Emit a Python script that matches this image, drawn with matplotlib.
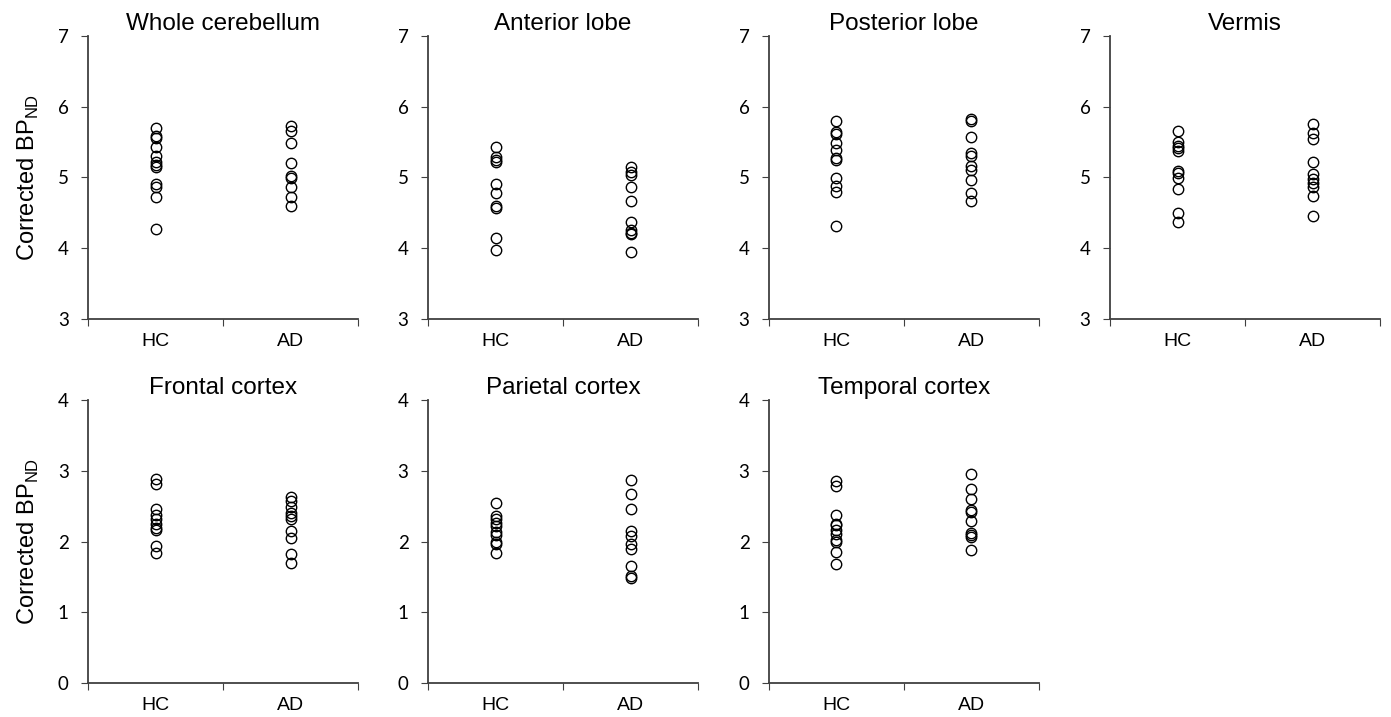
import matplotlib

matplotlib.use("Agg")
import matplotlib.pyplot as plt

groups = ["HC", "AD"]
regions = ["Whole cerebellum", "Anterior lobe", "Posterior lobe", "Vermis",
           "Frontal cortex", "Parietal cortex", "Temporal cortex"]

whole_hc = [5.69, 5.59, 5.56, 5.43, 5.30, 5.22, 5.18, 5.15, 4.91, 4.86, 4.72, 4.27]
whole_ad = [5.72, 5.65, 5.49, 5.20, 5.02, 4.99, 4.86, 4.72, 4.59]
anterior_hc = [5.43, 5.29, 5.24, 5.21, 4.91, 4.78, 4.60, 4.57, 4.14, 3.98]
anterior_ad = [5.14, 5.08, 5.03, 4.87, 4.66, 4.37, 4.26, 4.22, 4.20, 3.94]
posterior_hc = [5.79, 5.64, 5.61, 5.49, 5.38, 5.28, 5.24, 4.99, 4.88, 4.80, 4.32]
posterior_ad = [5.83, 5.79, 5.57, 5.34, 5.30, 5.16, 5.10, 4.96, 4.78, 4.66]
vermis_hc = [5.65, 5.50, 5.44, 5.41, 5.37, 5.09, 5.06, 4.99, 4.84, 4.50, 4.37]
vermis_ad = [5.75, 5.63, 5.54, 5.21, 5.05, 4.97, 4.92, 4.87, 4.73, 4.45]
frontal_hc = [2.88, 2.81, 2.46, 2.37, 2.32, 2.25, 2.19, 2.16, 1.94, 1.84]
frontal_ad = [2.63, 2.58, 2.49, 2.40, 2.36, 2.32, 2.15, 2.05, 1.82, 1.70]
parietal_hc = [2.55, 2.36, 2.32, 2.27, 2.22, 2.13, 2.10, 1.99, 1.97, 1.84]
parietal_ad = [2.87, 2.67, 2.46, 2.15, 2.08, 1.96, 1.90, 1.66, 1.52, 1.49]
temporal_hc = [2.85, 2.78, 2.37, 2.25, 2.23, 2.16, 2.11, 2.03, 1.99, 1.86, 1.69]
temporal_ad = [2.96, 2.75, 2.60, 2.45, 2.42, 2.29, 2.12, 2.10, 2.07, 1.88]

hc_values = [whole_hc, anterior_hc, posterior_hc, vermis_hc, frontal_hc, parietal_hc, temporal_hc]
ad_values = [whole_ad, anterior_ad, posterior_ad, vermis_ad, frontal_ad, parietal_ad, temporal_ad]
top_ticks = [3, 4, 5, 6, 7]
bottom_ticks = [0, 1, 2, 3, 4]

plt.rcParams["font.family"] = ["Liberation Sans", "DejaVu Sans"]
plt.rcParams["mathtext.fontset"] = "custom"
plt.rcParams["mathtext.rm"] = "Liberation Sans"

fig = plt.figure(figsize=(13.91, 7.17), dpi=100)
lefts = [0.0633, 0.3077, 0.5528, 0.7980]
width = 0.1941
row_bottoms = [0.5551, 0.0470]
height = 0.3951
axis_color = "#404040"

for i, name in enumerate(regions):
    row, col = divmod(i, 4)
    ax = fig.add_axes([lefts[col], row_bottoms[row], width, height])
    ticks = top_ticks if row == 0 else bottom_ticks
    for pos, vals in zip([1, 2], [hc_values[i], ad_values[i]]):
        ax.plot([pos] * len(vals), vals, "o", ms=7.5, mfc="none", mec="black", mew=1.0)
    ax.set_xlim(0.5, 2.5)
    ax.set_ylim(ticks[0], ticks[-1])
    ax.set_yticks(ticks)
    ax.set_yticklabels([str(t) for t in ticks], family="Lato", fontsize=13.5)
    ax.set_xticks([0.5, 1.5, 2.5])
    ax.set_xticklabels([])
    ax.set_xticks([1, 2], minor=True)
    ax.set_xticklabels(groups, minor=True, fontsize=14)
    ax.tick_params(axis="x", which="minor", length=0, pad=10)
    ax.tick_params(axis="x", which="major", direction="out", length=5, color=axis_color)
    ax.tick_params(axis="y", direction="out", length=5, color=axis_color, pad=9)
    for side in ["top", "right"]:
        ax.spines[side].set_visible(False)
    for side in ["left", "bottom"]:
        ax.spines[side].set_color(axis_color)
        ax.spines[side].set_linewidth(1.3)
        ax.spines[side].set_clip_on(False)
    ax.set_title(name, fontsize=17.5, pad=4)
    if col == 0:
        ax.set_ylabel(r"Corrected BP$_{\mathrm{ND}}$", fontsize=17, labelpad=12)

fig.savefig("out.png", dpi=100)
